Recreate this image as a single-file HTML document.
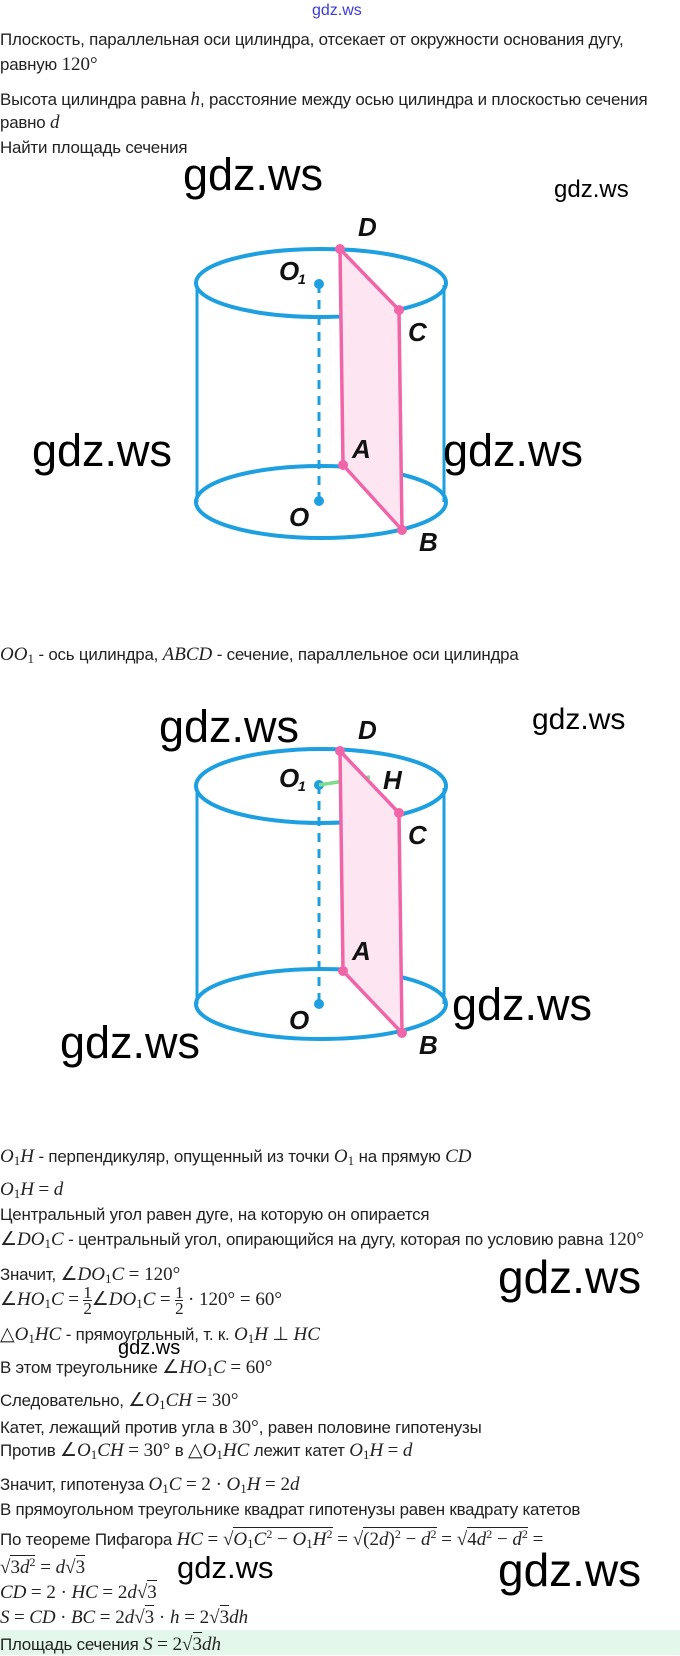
<!DOCTYPE html>
<html><head><meta charset="utf-8">
<style>
html,body{margin:0;padding:0;background:#fff;}
body{width:680px;height:1655px;position:relative;overflow:hidden;font-family:"Liberation Sans",sans-serif;color:#222;}
.l{position:absolute;left:0;white-space:nowrap;font-size:16.9px;line-height:22px;letter-spacing:-0.2px;}
.m{font-family:"Liberation Serif",serif;font-style:italic;font-size:19px;letter-spacing:0;}
.n{font-family:"Liberation Serif",serif;font-size:19px;font-style:normal;letter-spacing:0;}
.fr{display:inline-block;vertical-align:middle;text-align:center;font-family:"Liberation Serif",serif;font-size:17px;line-height:15px;font-style:normal;}
.fr span{display:block;}
.fr span:first-child{border-bottom:1px solid #222;}
sub{font-size:13px;vertical-align:-3px;font-style:normal;line-height:0;}
sup{font-size:12px;vertical-align:7px;font-style:normal;line-height:0;}
.ov{border-top:1px solid #222;padding-top:1px;}
.band{position:absolute;left:0;top:1630px;width:680px;height:25px;background:#e3f8ea;}
</style></head><body>
<div style="position:absolute;left:312px;top:2px;font-size:16px;color:#3b3bd6;">gdz.ws</div>
<div class="l" style="top:29px">Плоскость, параллельная оси цилиндра, отсекает от окружности основания дугу,</div>
<div class="l" style="top:54px">равную <span class="n">120°</span></div>
<div class="l" style="top:89px">Высота цилиндра равна <span class="m">h</span>, расстояние между осью цилиндра и плоскостью сечения</div>
<div class="l" style="top:112px">равно <span class="m">d</span></div>
<div class="l" style="top:137px">Найти площадь сечения</div>

<svg style="position:absolute;left:0;top:0" width="680" height="1655">
<g stroke="#1ea0e0" stroke-width="4" fill="none">
<ellipse cx="321" cy="283" rx="125" ry="34"/>
<ellipse cx="321" cy="502" rx="125" ry="36"/>
<line x1="197" y1="285" x2="197" y2="502" stroke-width="3"/>
<line x1="444" y1="285" x2="444" y2="502" stroke-width="3"/>
<line x1="319" y1="284" x2="319" y2="500" stroke-width="3" stroke-dasharray="9,7"/>
<ellipse cx="321" cy="786" rx="125" ry="37"/>
<ellipse cx="321" cy="1004" rx="125" ry="35"/>
<line x1="197" y1="788" x2="197" y2="1004" stroke-width="3"/>
<line x1="444" y1="788" x2="444" y2="1004" stroke-width="3"/>
<line x1="319" y1="785" x2="319" y2="1003" stroke-width="3" stroke-dasharray="9,7"/>
</g>
<g fill="#1ea0e0"><circle cx="319" cy="284" r="5"/><circle cx="319" cy="501" r="5"/><circle cx="319" cy="785" r="5"/><circle cx="319" cy="1004" r="5"/></g>
<polygon points="340,249 399,310 402,530 343,465" fill="#fde6f2"/>
<polygon points="340,249 399,310 402,530 343,465" fill="none" stroke="#f064a8" stroke-width="3.5" stroke-linejoin="round"/>
<line x1="319" y1="785" x2="370" y2="777" stroke="#7fdc8f" stroke-width="3.5"/>
<polygon points="340,751 399,813 402,1033 343,971" fill="#fde6f2"/>
<polygon points="340,751 399,813 402,1033 343,971" fill="none" stroke="#f064a8" stroke-width="3.5" stroke-linejoin="round"/>
<g fill="#f064a8"><circle cx="340" cy="249" r="5"/><circle cx="399" cy="310" r="5"/><circle cx="343" cy="465" r="5"/><circle cx="402" cy="530" r="5"/>
<circle cx="340" cy="751" r="5"/><circle cx="399" cy="813" r="5"/><circle cx="343" cy="971" r="5"/><circle cx="402" cy="1033" r="5"/></g>
<g font-family="Liberation Sans, sans-serif" font-style="italic" font-weight="bold" font-size="26" fill="#111">
<text x="358" y="236">D</text>
<text x="279" y="280">O</text><text x="298" y="284" font-size="14">1</text>
<text x="408" y="341">C</text>
<text x="352" y="458">A</text>
<text x="289" y="526">O</text>
<text x="419" y="551">B</text>
<text x="358" y="739">D</text>
<text x="279" y="787">O</text><text x="298" y="791" font-size="14">1</text>
<text x="383" y="789">H</text>
<text x="408" y="844">C</text>
<text x="352" y="960">A</text>
<text x="289" y="1029">O</text>
<text x="419" y="1054">B</text>
</g>
<g font-family="Liberation Sans, sans-serif" fill="#000">
<text x="183" y="190" font-size="45">gdz.ws</text>
<text x="554" y="197" font-size="24">gdz.ws</text>
<text x="32" y="466" font-size="45">gdz.ws</text>
<text x="443" y="466" font-size="45">gdz.ws</text>
<text x="159" y="742" font-size="45">gdz.ws</text>
<text x="532" y="729" font-size="30">gdz.ws</text>
<text x="452" y="1020" font-size="45">gdz.ws</text>
<text x="60" y="1058" font-size="45">gdz.ws</text>
<text x="498" y="1293" font-size="46">gdz.ws</text>
<text x="118" y="1354" font-size="20">gdz.ws</text>
<text x="498" y="1586" font-size="46">gdz.ws</text>
<text x="177" y="1578" font-size="31">gdz.ws</text>
</g>
</svg>

<div class="l" style="top:644px"><span class="m">OO<sub>1</sub></span> - ось цилиндра, <span class="m">ABCD</span> - сечение, параллельное оси цилиндра</div>

<div class="l" style="top:1146px"><span class="m">O<sub>1</sub>H</span> - перпендикуляр, опущенный из точки <span class="m">O<sub>1</sub></span> на прямую <span class="m">CD</span></div>
<div class="l" style="top:1179px"><span class="m">O<sub>1</sub>H</span> <span class="n">=</span> <span class="m">d</span></div>
<div class="l" style="top:1204px">Центральный угол равен дуге, на которую он опирается</div>
<div class="l" style="top:1229px"><span class="n">∠</span><span class="m">DO<sub>1</sub>C</span> - центральный угол, опирающийся на дугу, которая по условию равна <span class="n">120°</span></div>
<div class="l" style="top:1264px">Значит, <span class="n">∠</span><span class="m">DO<sub>1</sub>C</span> <span class="n">= 120°</span></div>
<div class="l" style="top:1285px"><span class="n">∠</span><span class="m">HO<sub>1</sub>C</span> <span class="n">=</span> <span class="fr"><span>1</span><span>2</span></span><span class="n">∠</span><span class="m">DO<sub>1</sub>C</span> <span class="n">=</span> <span class="fr"><span>1</span><span>2</span></span> <span class="n">· 120° = 60°</span></div>
<div class="l" style="top:1324px"><span class="n">△</span><span class="m">O<sub>1</sub>HC</span> - прямоугольный, т. к. <span class="m">O<sub>1</sub>H</span> <span class="n">⊥</span> <span class="m">HC</span></div>
<div class="l" style="top:1357px">В этом треугольнике <span class="n">∠</span><span class="m">HO<sub>1</sub>C</span> <span class="n">= 60°</span></div>
<div class="l" style="top:1390px">Следовательно, <span class="n">∠</span><span class="m">O<sub>1</sub>CH</span> <span class="n">= 30°</span></div>
<div class="l" style="top:1417px">Катет, лежащий против угла в <span class="n">30°</span>, равен половине гипотенузы</div>
<div class="l" style="top:1440px">Против <span class="n">∠</span><span class="m">O<sub>1</sub>CH</span> <span class="n">= 30°</span> в <span class="n">△</span><span class="m">O<sub>1</sub>HC</span> лежит катет <span class="m">O<sub>1</sub>H</span> <span class="n">=</span> <span class="m">d</span></div>
<div class="l" style="top:1474px">Значит, гипотенуза <span class="m">O<sub>1</sub>C</span> <span class="n">= 2 ·</span> <span class="m">O<sub>1</sub>H</span> <span class="n">= 2</span><span class="m">d</span></div>
<div class="l" style="top:1499px">В прямоугольном треугольнике квадрат гипотенузы равен квадрату катетов</div>
<div class="l" style="top:1529px">По теореме Пифагора <span class="m">HC</span> <span class="n">= √<span class="ov"><i>O<sub>1</sub>C<sup>2</sup></i> − <i>O<sub>1</sub>H<sup>2</sup></i></span> = √<span class="ov">(2<i>d</i>)<sup>2</sup> − <i>d</i><sup>2</sup></span> = √<span class="ov">4<i>d</i><sup>2</sup> − <i>d</i><sup>2</sup></span> =</span></div>
<div class="l" style="top:1557px"><span class="n">√<span class="ov">3<i>d</i><sup>2</sup></span> = <i>d</i>√<span class="ov">3</span></span></div>
<div class="l" style="top:1582px"><span class="m">CD</span> <span class="n">= 2 ·</span> <span class="m">HC</span> <span class="n">= 2<i>d</i>√<span class="ov">3</span></span></div>
<div class="l" style="top:1607px"><span class="m">S</span> <span class="n">=</span> <span class="m">CD</span> <span class="n">·</span> <span class="m">BC</span> <span class="n">= 2<i>d</i>√<span class="ov">3</span> · <i>h</i> = 2√<span class="ov">3</span><i>dh</i></span></div>
<div class="band"></div>
<div class="l" style="top:1634px">Площадь сечения <span class="m">S</span> <span class="n">= 2√<span class="ov">3</span><i>dh</i></span></div>
</body></html>
